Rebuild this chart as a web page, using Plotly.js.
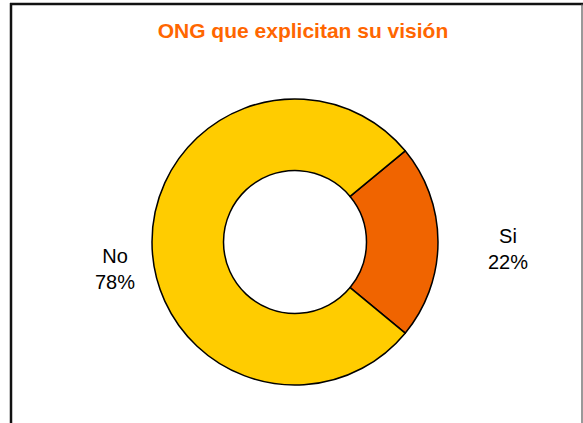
<!DOCTYPE html>
<html>
<head>
<meta charset="utf-8">
<script src="https://cdn.plot.ly/plotly-3.0.1.min.js"></script>
<style>html,body{margin:0;padding:0;background:#fff;}#chart{width:583px;height:423px;}</style>
</head>
<body>
<div id="chart"></div>
<script>
var categories = ["Si", "No"];
var values = [22, 78];
var colors = ["#F06400", "#FFCC00"];
var chartTitle = "ONG que explicitan su visión";

var W = 583, H = 423;
var cx = 295, cy = 242, R = 143;

// label positions in pixels (layout only)
var labelPos = [[508, 249], [115, 269]];

var total = values.reduce(function(a, b){ return a + b; }, 0);
var annotations = categories.map(function(c, i){
  return {
    text: c + "<br>" + Math.round(values[i] / total * 100) + "%",
    x: labelPos[i][0] / W, y: 1 - labelPos[i][1] / H,
    xref: "paper", yref: "paper", showarrow: false,
    xanchor: "center", yanchor: "middle",
    font: {family: "Liberation Sans, Arial, sans-serif", size: 20, color: "#000"}
  };
});

var trace = {
  type: "pie",
  labels: categories,
  values: values,
  hole: 0.5,
  sort: false,
  direction: "clockwise",
  rotation: 90 - (values[0] / total) * 180,
  textinfo: "none",
  hoverinfo: "label+percent",
  marker: {colors: colors, line: {color: "#000", width: 1.5}},
  domain: {x: [(cx - R) / W, (cx + R) / W], y: [1 - (cy + R) / H, 1 - (cy - R) / H]}
};

var layout = {
  width: W, height: H,
  margin: {l: 0, r: 0, t: 0, b: 0},
  paper_bgcolor: "#fff",
  showlegend: false,
  title: {
    text: "<b>" + chartTitle + "</b>",
    x: 303 / W, xanchor: "center",
    y: 1 - 31 / H, yanchor: "middle",
    font: {family: "Liberation Sans, Arial, sans-serif", size: 21, color: "#FF6600"}
  },
  annotations: annotations,
  shapes: [
    {type: "line", xref: "paper", yref: "paper", x0: 11 / W, x1: 11 / W, y0: 0, y1: 1 - 3 / H, line: {color: "#111", width: 2.5}},
    {type: "line", xref: "paper", yref: "paper", x0: 10 / W, x1: 1, y0: 1 - 4 / H, y1: 1 - 4 / H, line: {color: "#111", width: 2.5}},
    {type: "line", xref: "paper", yref: "paper", x0: 582 / W, x1: 582 / W, y0: 0, y1: 1 - 4 / H, line: {color: "#555", width: 1.2}}
  ]
};

Plotly.newPlot("chart", [trace], layout, {displayModeBar: false, staticPlot: true});
</script>
</body>
</html>
